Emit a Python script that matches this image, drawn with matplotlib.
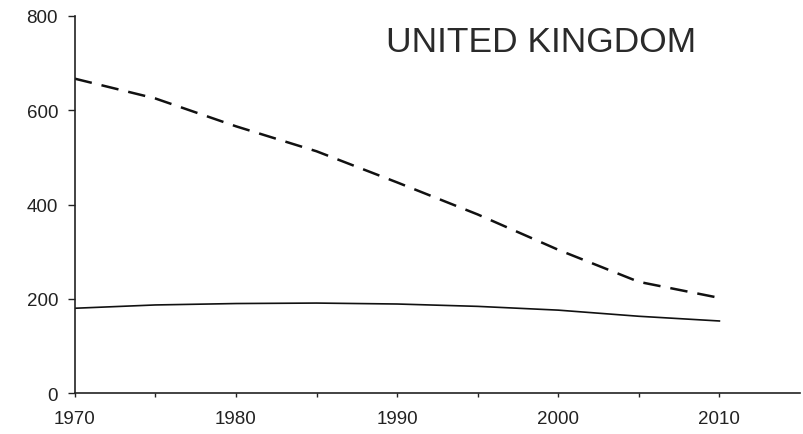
import matplotlib
matplotlib.use("Agg")
import matplotlib.pyplot as plt

# valeurs
annees = [1970, 1975, 1980, 1985, 1990, 1995, 2000, 2005, 2010]
tiretes = [667, 625, 566, 513, 447, 379, 304, 236, 202]
continue_ = [180, 187, 190, 191, 189, 184, 176, 163, 153]
yticks = [0, 200, 400, 600, 800]
xticks = [1970, 1980, 1990, 2000, 2010]

plt.rcParams['font.family'] = ['Liberation Sans', 'DejaVu Sans']

fig = plt.figure(figsize=(8.04, 4.35), dpi=100)
ax = fig.add_axes([0.093, 0.094, 0.902, 0.867])

ax.plot(annees, tiretes, color='#111111', lw=1.8, ls=(0, (7, 4)))
ax.plot(annees, continue_, color='#111111', lw=1.2)

ax.set_xlim(1970, 2015)
ax.set_ylim(0, 800)
ax.set_yticks(yticks)
ax.set_xticks(xticks)
ax.set_xticks(range(1975, 2015, 5), minor=True)
ax.tick_params(axis='y', direction='out', length=5, width=1, labelsize=13.5, colors='#222222', pad=7)
ax.tick_params(axis='x', which='both', direction='out', length=3, width=1, labelsize=13.5, colors='#222222', pad=9)

for s in ['top', 'right']:
    ax.spines[s].set_visible(False)
for s in ['left', 'bottom']:
    ax.spines[s].set_linewidth(1.2)
    ax.spines[s].set_color('#222222')

ax.text(541 / 804, 1 - 42 / 435, "UNITED KINGDOM", transform=fig.transFigure, fontsize=25.5,
        color='#2a2a2a', ha='center', va='center')

fig.savefig("out.png", dpi=100)
